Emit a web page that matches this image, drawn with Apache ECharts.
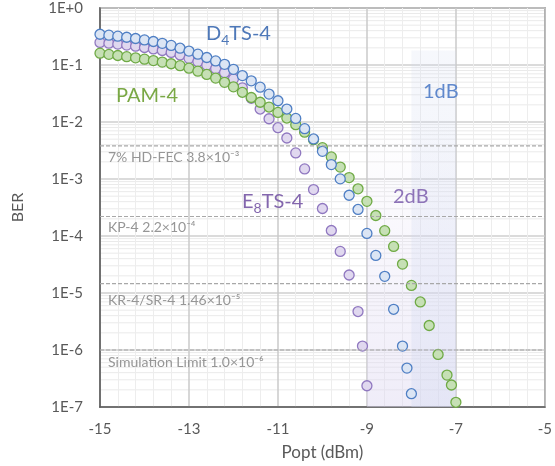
<!DOCTYPE html>
<html><head><meta charset="utf-8">
<script src="https://cdn.jsdelivr.net/npm/echarts@6/dist/echarts.min.js"></script>
<style>html,body{margin:0;padding:0;background:#fff}#c{width:555px;height:466px}</style>
</head><body><div id="c"></div>
<script>
// ---- data ----
const xTickValues = [-15, -13, -11, -9, -7, -5];
const yTickLabels = ['1E-7','1E-6','1E-5','1E-4','1E-3','1E-2','1E-1','1E+0'];

const d4Power = [-15,-14.8,-14.6,-14.4,-14.2,-14,-13.8,-13.6,-13.4,-13.2,-13,-12.8,-12.6,-12.4,-12.2,-12,-11.8,-11.6,-11.4,-11.2,-11,-10.8,-10.6,-10.4,-10.2,-10,-9.8,-9.6,-9.4,-9.2,-9,-8.8,-8.6,-8.4,-8.2,-8.1,-8];
const d4Ber = [0.3465,0.3342,0.3209,0.3070,0.2914,0.2754,0.2582,0.2401,0.2207,0.1971,0.1754,0.1547,0.1355,0.1181,0.1026,0.0839,0.0653,0.0528,0.0409,0.0309,0.0236,0.01688,0.01155,0.00763,0.00504,0.00306,0.00179,0.001005,0.000519,0.000292,0.000111,4.57e-5,1.96e-5,5.18e-6,1.17e-6,4.81e-7,1.71e-7];

const e8Power = [-15,-14.8,-14.6,-14.4,-14.2,-14,-13.8,-13.6,-13.4,-13.2,-13,-12.8,-12.6,-12.4,-12.2,-12,-11.8,-11.6,-11.4,-11.2,-11,-10.8,-10.6,-10.4,-10.2,-10,-9.8,-9.6,-9.4,-9.2,-9.1,-9];
const e8Ber = [0.249,0.2411,0.2325,0.2234,0.2137,0.2028,0.1917,0.1797,0.1664,0.1504,0.1307,0.1144,0.0994,0.0863,0.0734,0.0572,0.0398,0.0261,0.01688,0.01141,0.00794,0.00524,0.002865,0.001503,6.53e-4,3.04e-4,1.25e-4,5.37e-5,2.07e-5,4.73e-6,1.17e-6,2.36e-7];

const pamPower = [-15,-14.8,-14.6,-14.4,-14.2,-14,-13.8,-13.6,-13.4,-13.2,-13,-12.8,-12.6,-12.4,-12.2,-12,-11.8,-11.6,-11.4,-11.2,-11,-10.8,-10.6,-10.4,-10.2,-10,-9.8,-9.6,-9.4,-9.2,-9,-8.8,-8.6,-8.4,-8.2,-8,-7.8,-7.6,-7.4,-7.2,-7.1,-7];
const pamBer = [0.1611,0.1536,0.1469,0.1400,0.1334,0.1265,0.1196,0.1126,0.1051,0.0974,0.0881,0.0780,0.0683,0.0589,0.0497,0.0414,0.0332,0.0269,0.0222,0.0183,0.01472,0.01174,0.00896,0.00662,0.00490,0.00355,0.00244,0.00162,0.00106,6.72e-4,4.06e-4,2.29e-4,1.24e-4,6.57e-5,3.22e-5,1.36e-5,6.96e-6,2.69e-6,8.35e-7,3.63e-7,2.43e-7,1.21e-7];

const refValues = [3.8e-3, 2.2e-4, 1.46e-5, 1.0e-6];
const refNames = ['7% HD-FEC 3.8×10⁻³', 'KP-4 2.2×10⁻⁴', 'KR-4/SR-4 1.46×10⁻⁵', 'Simulation Limit 1.0×10⁻⁶'];
const refLabelGap = [12, 11, 17, 12];

// log minor gridline multipliers within each decade
const minorMultipliers = [2, 3, 4, 5, 6, 7, 8, 9];
const decades = [-7, -6, -5, -4, -3, -2, -1];

// shaded bands: [xStart, xEnd, yTop, yBottom]
const band2dB = [-9, -7, 1e-2, 1e-7];
const band1dB = [-8, -7, 0.18, 1e-7];

// ---- chart ----
const FONT = 'Lato, "Open Sans", sans-serif';
const X0 = xTickValues[0], X1 = xTickValues[xTickValues.length - 1];
const chart = echarts.init(document.getElementById('c'), null, {renderer: 'canvas'});

function pts(xs, ys) { return xs.map((x, i) => [x, ys[i]]); }
function scatter(name, xs, ys, fill, border, z) {
  return {
    name, type: 'scatter', data: pts(xs, ys), symbol: 'circle', symbolSize: 10, z,
    itemStyle: {color: fill, borderColor: border, borderWidth: 1.3, opacity: 1},
    emphasis: {disabled: true}, clip: false
  };
}
function hLines(values) {
  const d = [];
  values.forEach(v => { d.push([X0, v]); d.push([X1, v]); d.push(['-', '-']); });
  return d;
}

const minorValues = [];
decades.forEach(dd => minorMultipliers.forEach(m => minorValues.push(m * Math.pow(10, dd))));

const minorGrid = {
  name: 'minorgrid', type: 'line', data: hLines(minorValues), z: -1, silent: true,
  symbol: 'none', connectNulls: false, animation: false,
  lineStyle: {color: '#eaeaea', width: 1}, emphasis: {disabled: true}
};

const bandHost = {
  name: 'bands', type: 'scatter', data: [], z: 1, silent: true,
  markArea: {
    silent: true, z: 1,
    data: [
      [{xAxis: band2dB[0], yAxis: band2dB[2], itemStyle: {color: {type: 'linear', x: 0, y: 0, x2: 0, y2: 1, colorStops: [
          {offset: 0, color: 'rgba(226,220,244,0)'}, {offset: 0.5, color: 'rgba(226,220,244,0.28)'}, {offset: 1, color: 'rgba(220,214,240,0.45)'}]}}},
       {xAxis: band2dB[1], yAxis: band2dB[3]}],
      [{xAxis: band1dB[0], yAxis: band1dB[2], itemStyle: {color: {type: 'linear', x: 0, y: 0, x2: 0, y2: 1, colorStops: [
          {offset: 0, color: 'rgba(210,218,240,0.2)'}, {offset: 1, color: 'rgba(205,214,240,0.32)'}]}}},
       {xAxis: band1dB[1], yAxis: band1dB[3]}]
    ]
  }
};

const refLines = {
  name: 'refs', type: 'line', data: hLines(refValues), z: 5, silent: true,
  symbol: 'none', connectNulls: false, animation: false,
  lineStyle: {type: [4, 2], color: '#a8a8a8', width: 1.2}, emphasis: {disabled: true}
};

const option = {
  animation: false,
  backgroundColor: '#ffffff',
  grid: {left: 100, right: 4, top: 8, bottom: 58, show: true, borderColor: '#595959', borderWidth: 1.5, backgroundColor: 'transparent'},
  xAxis: {
    type: 'value', min: X0, max: X1, interval: 2,
    name: 'Popt (dBm)', nameLocation: 'middle', nameGap: 37,
    nameTextStyle: {fontSize: 17, color: '#595959', fontFamily: FONT},
    axisLine: {show: true, onZero: false, lineStyle: {color: '#595959', width: 1.5}},
    axisTick: {show: false},
    axisLabel: {fontSize: 15, color: '#595959', fontFamily: FONT, margin: 15},
    splitLine: {show: true, lineStyle: {color: '#cacaca', width: 1.5}},
    minorTick: {show: false, splitNumber: 5},
    minorSplitLine: {show: true, lineStyle: {color: '#ededed', width: 1}}
  },
  yAxis: {
    type: 'log', logBase: 10, min: 1e-7, max: 1,
    name: 'BER', nameLocation: 'middle', nameGap: 74,
    nameTextStyle: {fontSize: 16, color: '#595959', fontFamily: FONT},
    axisLine: {show: true, lineStyle: {color: '#595959', width: 1.5}},
    axisTick: {show: false},
    axisLabel: {fontSize: 15, color: '#595959', fontFamily: FONT, margin: 17,
      formatter: v => yTickLabels[Math.round(Math.log10(v)) + 7]},
    splitLine: {show: true, lineStyle: {color: '#cfcfcf', width: 1.5}},
    minorSplitLine: {show: false}
  },
  series: [
    minorGrid,
    bandHost,
    scatter('E8TS-4', e8Power, e8Ber, '#e0d8ef', '#9078c0', 2),
    scatter('PAM-4', pamPower, pamBer, '#c6e0b5', '#6faa45', 3),
    scatter('D4TS-4', d4Power, d4Ber, '#dbe5f4', '#4f7fc4', 4),
    refLines
  ],
  graphic: [
    {type: 'text', x: 206, y: 34, z: 10, style: {text: '{m|D}{s|4}{m|TS-4}', textVerticalAlign: 'middle', fill: '#4e78b8',
      rich: {m: {fontSize: 20, lineHeight: 26, fontFamily: FONT, fill: '#4e78b8'}, s: {fontSize: 14, lineHeight: 10, verticalAlign: 'bottom', fontFamily: FONT, fill: '#4e78b8'}}}},
    {type: 'text', x: 116, y: 96, z: 10, style: {text: 'PAM-4', font: '20px ' + FONT, fill: '#7aa845', textVerticalAlign: 'middle'}},
    {type: 'text', x: 242, y: 202, z: 10, style: {text: '{m|E}{s|8}{m|TS-4}', textVerticalAlign: 'middle', fill: '#8366ad',
      rich: {m: {fontSize: 20, lineHeight: 26, fontFamily: FONT, fill: '#8366ad'}, s: {fontSize: 14, lineHeight: 10, verticalAlign: 'bottom', fontFamily: FONT, fill: '#8366ad'}}}},
    {type: 'text', x: 423, y: 92, z: 10, style: {text: '1dB', font: '20px ' + FONT, fill: '#5f88cc', textVerticalAlign: 'middle'}},
    {type: 'text', x: 393, y: 197, z: 10, style: {text: '2dB', font: '20px ' + FONT, fill: '#8d73b8', textVerticalAlign: 'middle'}}
  ]
};
chart.setOption(option);

// reference-line labels positioned through the chart's own scales
const refLabelGraphics = refValues.map((v, i) => {
  const p = chart.convertToPixel({gridIndex: 0}, [X0, v]);
  return {type: 'text', x: p[0] + 8, y: p[1] + refLabelGap[i], z: 10,
    style: {text: refNames[i], font: '14px ' + FONT, fill: '#969696', textVerticalAlign: 'middle'}};
});
chart.setOption({graphic: option.graphic.concat(refLabelGraphics)});
</script>
</body></html>
